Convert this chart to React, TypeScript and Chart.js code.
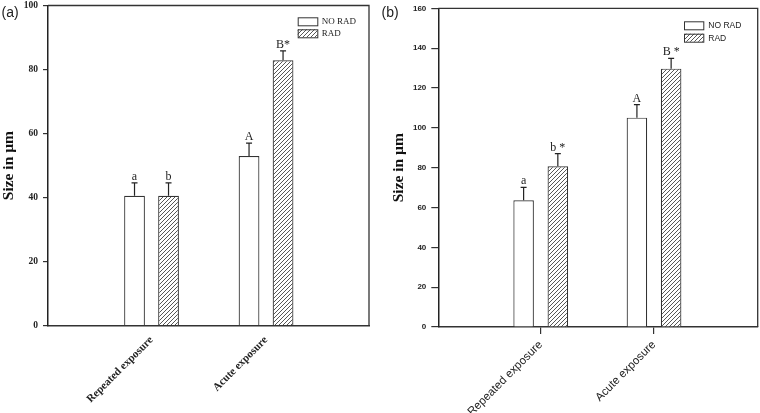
import React, { useEffect, useRef } from 'react';
import { Chart, registerables } from 'chart.js';

Chart.register(...registerables);

// ---------- data ----------
const categories = ['Repeated exposure', 'Acute exposure'];
const seriesNames = ['NO RAD', 'RAD'];

// panel (a)
const aNoRad = [40.6, 53.0];
const aRad = [40.6, 82.9];
const aNoRadErr = [4.0, 4.0];
const aRadErr = [4.0, 2.9];
const aNoRadLetters = ['a', 'A'];
const aRadLetters = ['b', 'B*'];
const aYTicks = [0, 20, 40, 60, 80, 100];

// panel (b)
const bNoRad = [63.6, 105.1];
const bRad = [80.7, 129.7];
const bNoRadErr = [6.5, 6.5];
const bRadErr = [6.3, 5.2];
const bNoRadLetters = ['a', 'A'];
const bRadLetters = ['b *', 'B *'];
const bYTicks = [0, 20, 40, 60, 80, 100, 120, 140, 160];

const SERIF = '"Liberation Serif", "Times New Roman", serif';
const SANS = '"Liberation Sans", Arial, sans-serif';

function makeHatch(): CanvasPattern | string {
  const s = 4;
  const c = document.createElement('canvas');
  c.width = s;
  c.height = s;
  const g = c.getContext('2d');
  if (!g) return '#ccc';
  g.fillStyle = '#fff';
  g.fillRect(0, 0, s, s);
  g.strokeStyle = '#444';
  g.lineWidth = 0.9;
  g.beginPath();
  g.moveTo(0, s);
  g.lineTo(s, 0);
  g.moveTo(-1, 1);
  g.lineTo(1, -1);
  g.moveTo(s - 1, s + 1);
  g.lineTo(s + 1, s - 1);
  g.stroke();
  return g.createPattern(c, 'repeat') || '#ccc';
}

interface PanelSpec {
  tag: string;
  noRad: number[];
  rad: number[];
  errs: number[][];
  letters: string[][];
  yTicks: number[];
  yMax: number;
  xMin: number;
  xMax: number;
  catPct: number;
  barPct: number;
  padding: { left: number; right: number; top: number; bottom: number };
  yWidth: number;
  xHeight: number;
  tickFont: any;
  yTickLen: number;
  yTickPad: number;
  titlePad: number;
  xFont: any;
  xTicks: boolean;
  xTickPad: number;
  legendFont: string;
  legend: { x: number; y: number; w: number; h: number; gap: number; textX: number };
}

function buildConfig(p: PanelSpec): any {
  const hatch = makeHatch();
  const toPts = (arr: number[]) => arr.map((v, i) => ({ x: i, y: v }));
  const decor = {
    id: 'decor',
    afterDatasetsDraw(chart: any) {
      const ctx = chart.ctx as CanvasRenderingContext2D;
      const ca = chart.chartArea;
      const ys = chart.scales.y;
      ctx.save();
      // error bars + letters
      chart.data.datasets.forEach((ds: any, di: number) => {
        const meta = chart.getDatasetMeta(di);
        meta.data.forEach((bar: any, i: number) => {
          const v = ds.data[i].y;
          const e = p.errs[di][i];
          const yTop = ys.getPixelForValue(v + e);
          ctx.strokeStyle = '#222';
          ctx.lineWidth = 1.2;
          ctx.beginPath();
          ctx.moveTo(bar.x, bar.y);
          ctx.lineTo(bar.x, yTop);
          ctx.moveTo(bar.x - 3, yTop);
          ctx.lineTo(bar.x + 3, yTop);
          ctx.stroke();
          ctx.fillStyle = '#222';
          ctx.font = `12px ${SERIF}`;
          ctx.textAlign = 'center';
          ctx.textBaseline = 'alphabetic';
          ctx.fillText(p.letters[di][i], bar.x, yTop - 3);
        });
      });
      // frame
      ctx.strokeStyle = '#333';
      ctx.lineWidth = 1.3;
      ctx.beginPath();
      ctx.moveTo(ca.left, ca.top);
      ctx.lineTo(ca.right, ca.top);
      ctx.lineTo(ca.right, ca.bottom);
      ctx.stroke();
      // legend
      const L = p.legend;
      chart.data.datasets.forEach((ds: any, di: number) => {
        const y = L.y + di * (L.h + L.gap);
        ctx.fillStyle = ds.backgroundColor;
        ctx.fillRect(L.x, y, L.w, L.h);
        ctx.strokeStyle = '#333';
        ctx.lineWidth = 1;
        ctx.strokeRect(L.x + 0.5, y + 0.5, L.w, L.h);
        ctx.fillStyle = '#222';
        ctx.font = p.legendFont;
        ctx.textAlign = 'left';
        ctx.textBaseline = 'middle';
        ctx.fillText(ds.label, L.textX, y + L.h / 2 + 0.5);
      });
      // panel tag
      ctx.fillStyle = '#222';
      ctx.font = `14px ${SANS}`;
      ctx.textAlign = 'left';
      ctx.textBaseline = 'middle';
      ctx.fillText(p.tag, 1.5, 13);
      ctx.restore();
    },
  };

  return {
    type: 'bar',
    data: {
      datasets: [
        {
          label: seriesNames[0],
          data: toPts(p.noRad),
          backgroundColor: '#ffffff',
          borderColor: '#333',
          borderWidth: 1.2,
          categoryPercentage: p.catPct,
          barPercentage: p.barPct,
        },
        {
          label: seriesNames[1],
          data: toPts(p.rad),
          backgroundColor: hatch,
          borderColor: '#333',
          borderWidth: 1.2,
          categoryPercentage: p.catPct,
          barPercentage: p.barPct,
        },
      ],
    },
    options: {
      responsive: false,
      animation: false,
      devicePixelRatio: 1,
      layout: { padding: p.padding },
      plugins: {
        legend: { display: false },
        tooltip: { enabled: false },
      },
      scales: {
        x: {
          type: 'linear',
          offset: false,
          min: p.xMin,
          max: p.xMax,
          afterBuildTicks: (s: any) => {
            s.ticks = categories.map((_, i) => ({ value: i }));
          },
          ticks: {
            autoSkip: false,
            minRotation: 45,
            maxRotation: 45,
            padding: p.xTickPad,
            color: '#222',
            font: p.xFont,
            callback: (v: any) => categories[v] ?? '',
          },
          grid: p.xTicks
            ? { display: true, offset: false, drawOnChartArea: false, drawTicks: true, tickLength: 7, color: '#333', lineWidth: 1.2 }
            : { display: false, offset: false },
          border: { display: true, color: '#333', width: 1.5 },
          afterFit: (s: any) => {
            s.height = p.xHeight;
            s.paddingLeft = 0;
            s.paddingRight = 0;
          },
        },
        y: {
          min: 0,
          max: p.yMax,
          afterBuildTicks: (s: any) => {
            s.ticks = p.yTicks.map((v) => ({ value: v }));
          },
          ticks: {
            padding: p.yTickPad,
            color: '#222',
            font: p.tickFont,
          },
          grid: { display: true, drawOnChartArea: false, drawTicks: true, tickLength: p.yTickLen, color: '#333', lineWidth: 1.2 },
          border: { display: true, color: '#222', width: 1.5 },
          title: {
            display: true,
            text: 'Size in µm',
            color: '#111',
            font: { family: SERIF, weight: 'bold', size: 15.5 },
            padding: { top: p.titlePad, bottom: 0 },
          },
          afterFit: (s: any) => {
            s.width = p.yWidth;
            s.paddingTop = 0;
            s.paddingBottom = 0;
          },
        },
      },
    },
    plugins: [decor],
  };
}

const panelA: PanelSpec = {
  tag: '(a)',
  noRad: aNoRad,
  rad: aRad,
  errs: [aNoRadErr, aRadErr],
  letters: [aNoRadLetters, aRadLetters],
  yTicks: aYTicks,
  yMax: 100,
  xMin: -0.904,
  xMax: 1.899,
  catPct: 0.594,
  barPct: 0.61,
  padding: { left: 0, right: 11, top: 5.5, bottom: 0 },
  yWidth: 48,
  xHeight: 413 - 325.7,
  tickFont: { family: SERIF, weight: 'bold', size: 9.5 },
  yTickLen: 5,
  yTickPad: 5,
  titlePad: 0,
  xFont: { family: SERIF, weight: 'bold', size: 11 },
  xTicks: false,
  xTickPad: 0,
  legendFont: `9px ${SERIF}`,
  legend: { x: 297.7, y: 17.3, w: 19.6, h: 8, gap: 4, textX: 321.7 },
};

const panelB: PanelSpec = {
  tag: '(b)',
  noRad: bNoRad,
  rad: bRad,
  errs: [bNoRadErr, bRadErr],
  letters: [bNoRadLetters, bRadLetters],
  yTicks: bYTicks,
  yMax: 160,
  xMin: -0.904,
  xMax: 1.915,
  catPct: 0.604,
  barPct: 0.6,
  padding: { left: 0, right: 380 - 377.7, top: 8.3, bottom: 0 },
  yWidth: 58.3,
  xHeight: 413 - 327,
  tickFont: { family: SANS, weight: 'bold', size: 8 },
  yTickLen: 7,
  yTickPad: 5,
  titlePad: 10,
  xFont: { family: SANS, size: 11.5 },
  xTicks: true,
  xTickPad: 4,
  legendFont: `8.5px ${SANS}`,
  legend: { x: 304, y: 21.3, w: 19.3, h: 8, gap: 4.4, textX: 328.3 },
};

function Panel({ spec, left }: { spec: PanelSpec; left: number }) {
  const ref = useRef<HTMLCanvasElement | null>(null);
  useEffect(() => {
    if (!ref.current) return;
    const chart = new Chart(ref.current, buildConfig(spec));
    return () => chart.destroy();
  }, [spec]);
  return (
    <canvas
      ref={ref}
      width={380}
      height={413}
      style={{ position: 'absolute', left, top: 0, width: 380, height: 413 }}
    />
  );
}

export default function App() {
  return (
    <div style={{ position: 'absolute', left: 0, top: 0, width: 760, height: 413, background: '#fff', overflow: 'hidden' }}>
      <Panel spec={panelA} left={0} />
      <Panel spec={panelB} left={380} />
    </div>
  );
}
